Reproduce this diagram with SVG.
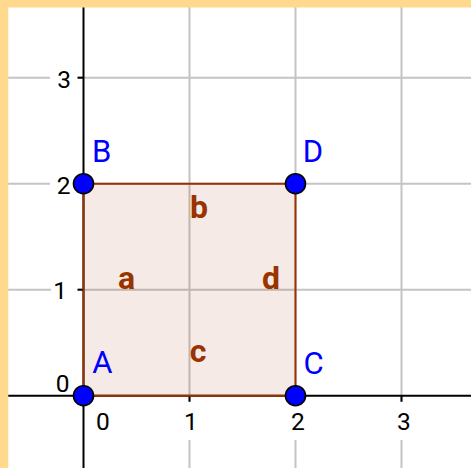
<svg xmlns="http://www.w3.org/2000/svg" width="471" height="468" viewBox="0 0 471 468">
<style>
.grid{stroke:#c4c4c4;stroke-width:2;fill:none}
.axis{stroke:#000;stroke-width:2;fill:none}
.tick{stroke:#000;stroke-width:2}
.num{font-family:Roboto,"Liberation Sans",Arial,sans-serif;font-size:24.5px;fill:#000}
.bg{fill:#fff}
.pt{fill:#0000ff;stroke:#000;stroke-width:1.6}
.plab{font-family:Roboto,"Liberation Sans",Arial,sans-serif;font-size:31px;fill:#0000ff}
.slab{font-family:Roboto,"Liberation Sans",Arial,sans-serif;font-size:32px;font-weight:bold;fill:#993300;text-anchor:middle}
.side{stroke:#993300;stroke-width:2;fill:none}
</style>
<rect x="0" y="0" width="471" height="468" fill="#fff"/>
<g id="grid">
<line class="grid" x1="189.5" y1="0" x2="189.5" y2="468"/>
<line class="grid" x1="295.5" y1="0" x2="295.5" y2="468"/>
<line class="grid" x1="401.5" y1="0" x2="401.5" y2="468"/>
<line class="grid" x1="0" y1="77.7" x2="471" y2="77.7"/>
<line class="grid" x1="0" y1="183.7" x2="471" y2="183.7"/>
<line class="grid" x1="0" y1="289.7" x2="471" y2="289.7"/>
</g>
<g id="axis-labels">
<rect class="bg" x="50" y="64" width="28" height="28"/>
<rect class="bg" x="50" y="170" width="28" height="28"/>
<rect class="bg" x="51" y="276" width="27" height="28"/>
<rect class="bg" x="178" y="402" width="26" height="38"/>
<rect class="bg" x="284" y="402" width="26" height="38"/>
<rect class="bg" x="390" y="402" width="26" height="38"/>
<text class="num" x="71" y="87.5" text-anchor="end">3</text>
<text class="num" x="70.5" y="193.5" text-anchor="end">2</text>
<text class="num" x="67" y="299.3" text-anchor="end">1</text>
<text class="num" x="69.5" y="392" text-anchor="end">0</text>
<text class="num" x="103" y="429.5" text-anchor="middle">0</text>
<text class="num" x="191" y="429.5" text-anchor="middle">1</text>
<text class="num" x="298" y="429.5" text-anchor="middle">2</text>
<text class="num" x="404" y="429.5" text-anchor="middle">3</text>
</g>
<g id="axes">
<line class="axis" x1="83.5" y1="0" x2="83.5" y2="468"/>
<line class="axis" x1="0" y1="395.7" x2="471" y2="395.7"/>
<line class="tick" x1="77.5" y1="77.7" x2="83.5" y2="77.7"/>
<line class="tick" x1="77.5" y1="183.7" x2="83.5" y2="183.7"/>
<line class="tick" x1="77.5" y1="289.7" x2="83.5" y2="289.7"/>
<line class="tick" x1="189.5" y1="395.7" x2="189.5" y2="401.7"/>
<line class="tick" x1="295.5" y1="395.7" x2="295.5" y2="401.7"/>
<line class="tick" x1="401.5" y1="395.7" x2="401.5" y2="401.7"/>
</g>
<g id="square">
<rect x="83.5" y="183.7" width="212" height="212" fill="#993300" fill-opacity="0.1"/>
</g>
<g id="connectors">
<line id="a" class="side" x1="83.5" y1="395.7" x2="83.5" y2="183.7"/>
<line id="b" class="side" x1="83.5" y1="183.7" x2="295.5" y2="183.7"/>
<line id="c" class="side" x1="83.5" y1="395.7" x2="295.5" y2="395.7"/>
<line id="d" class="side" x1="295.5" y1="395.7" x2="295.5" y2="183.7"/>
</g>
<g id="side-labels">
<text class="slab" x="126.5" y="289">a</text>
<text class="slab" x="199" y="218">b</text>
<text class="slab" x="198" y="362">c</text>
<text class="slab" x="271" y="289">d</text>
</g>
<g id="A"><circle class="pt" cx="83.5" cy="395.7" r="10"/><text class="plab" x="92.3" y="373">A</text></g>
<g id="B"><circle class="pt" cx="83.5" cy="183.7" r="10"/><text class="plab" x="92" y="162">B</text></g>
<g id="C"><circle class="pt" cx="295.5" cy="395.7" r="10"/><text class="plab" x="303.5" y="374">C</text></g>
<g id="D"><circle class="pt" cx="295.5" cy="183.7" r="10"/><text class="plab" x="302.7" y="162">D</text></g>
<g id="frame">
<rect x="0" y="0" width="471" height="7.5" fill="#fed98e"/>
<rect x="0" y="0" width="8.3" height="468" fill="#fed98e"/>
</g>
</svg>
